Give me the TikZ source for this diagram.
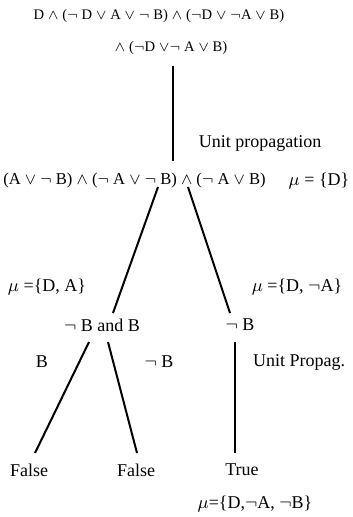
\documentclass[tikz,border=0pt]{standalone}
\usepackage{fontspec}
\setmainfont{Liberation Serif}
\usepackage{tikz}
\usetikzlibrary{positioning}
\newcommand{\tAnd}{$\wedge$}
\newcommand{\tOr}{$\vee$}
\newcommand{\tNot}{$\neg$}

\begin{document}
\begin{tikzpicture}[x=0.5pt,y=-0.5pt,font=\fontsize{9}{11}\selectfont,
  txt/.style={inner sep=0pt,anchor=center},
  fml/.style={txt,font=\fontsize{7.3}{9}\selectfont},
  edge/.style={line width=1pt}]
\useasboundingbox (0,0) rectangle (352,517);
% formulas
\node[fml] (f1) at (159,16) {D \tAnd{} (\tNot{} D \tOr{} A \tOr{} \tNot{} B) \tAnd{} (\tNot D \tOr{} \tNot A \tOr{} B)};
\node[fml] (f2) at (171,48) {\tAnd{} (\tNot D \tOr\tNot{} A \tOr{} B)};
\node[fml,font=\fontsize{8.3}{10}\selectfont] (f3) at (134.5,181) {(A \tOr{} \tNot{} B) \tAnd{} (\tNot{} A \tOr{} \tNot{} B) \tAnd{} (\tNot{} A \tOr{} B)};
\node[txt] (mu0) at (319,181) {$\mu$ = \{D\}};
\node[txt] (up) at (260,143) {Unit propagation};
% second level
\node[txt] (muL) at (47,287) {$\mu$ =\{D, A\}};
\node[txt] (muR) at (297,287) {$\mu$ =\{D, \tNot A\}};
\node[txt] (nBB) at (102,325) {\tNot{} B and B};
\node[txt] (nB) at (240,325) {\tNot{} B};
% third level
\node[txt] (lB) at (42,362) {B};
\node[txt] (lnB) at (159,362) {\tNot{} B};
\node[txt] (upg) at (299,362) {Unit Propag.};
\node[txt] (fa1) at (29,470) {False};
\node[txt] (fa2) at (136,470) {False};
\node[txt] (tr) at (242,470) {True};
\node[txt] (muT) at (255,504) {$\mu$=\{D,\tNot A, \tNot B\}};
% line ends
\coordinate (a0) at (172.5,66);  \coordinate (a1) at (172.5,161);
\coordinate (b0) at (158,187);   \coordinate (b1) at (113,313);
\coordinate (c0) at (188,187);   \coordinate (c1) at (230,313);
\coordinate (d0) at (89,342);    \coordinate (d1) at (35,453);
\coordinate (e0) at (108,342);   \coordinate (e1) at (137,453);
\coordinate (g0) at (235,342);   \coordinate (g1) at (235,453);
\draw[edge] (a0) -- (a1);
\draw[edge] (b0) -- (b1);
\draw[edge] (c0) -- (c1);
\draw[edge] (d0) -- (d1);
\draw[edge] (e0) -- (e1);
\draw[edge] (g0) -- (g1);
\end{tikzpicture}
\end{document}
